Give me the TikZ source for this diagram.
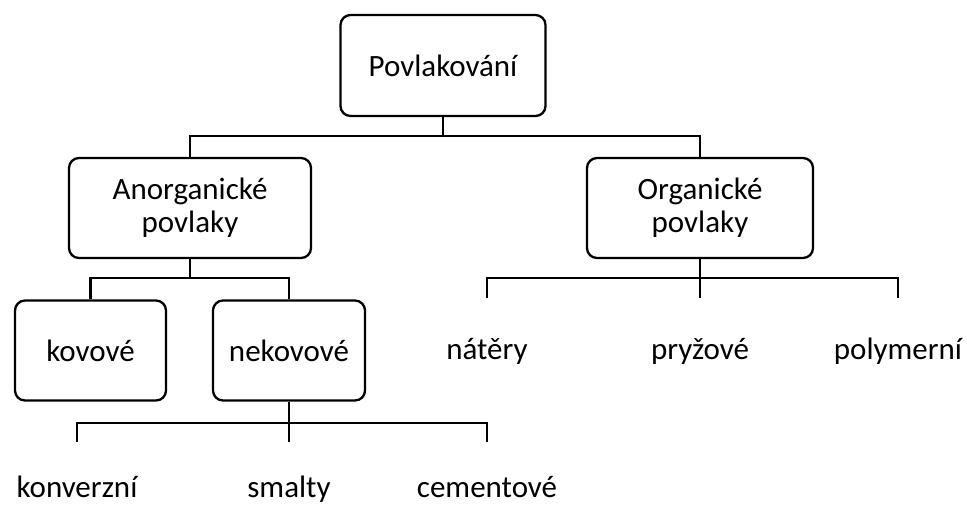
\documentclass[tikz,border=0pt]{standalone}
\usepackage{fontspec}
\setmainfont{Carlito}
\begin{document}
\begin{tikzpicture}[x=1pt, y=-1pt, line width=2.3pt,
  box/.style={draw, rounded corners=10pt, align=center, inner sep=0pt, font=\fontsize{31}{33}\selectfont},
  lbl/.style={anchor=base, inner sep=0pt, font=\fontsize{31}{33}\selectfont}]
\useasboundingbox (0,0) rectangle (967,504);
\node[box, minimum width=205, minimum height=101] (povl) at (443,65.5){Povlakování};
\node[box, minimum width=242, minimum height=100] (anorg) at (190,208){Anorganické\\povlaky};
\node[box, minimum width=226, minimum height=100] (org) at (700,208){Organické\\povlaky};
\draw[](povl.south) -- ++(0,19) -| (anorg.north);
\draw[](povl.south) -- ++(0,19) -| (org.north);
\node[box, minimum width=151, minimum height=100] (kov) at (90.5,350.5){kovové};
\node[box, minimum width=152, minimum height=100] (nekov) at (289,350.5){nekovové};
\draw[](anorg.south) -- ++(0,19) -| (kov.north);
\draw[](anorg.south) -- ++(0,19) -| (nekov.north);
\node[lbl] (nat) at (487,359){nátěry};
\node[lbl] (pryz) at (700,359){pryžové};
\node[lbl] (poly) at (898,359){polymerní};
\coordinate (natEnd) at (487,298);
\coordinate (pryzEnd) at (700,298);
\coordinate (polyEnd) at (898,298);
\draw[](org.south) -- ++(0,19) -| (natEnd);
\draw[](org.south) -- ++(0,19) -| (pryzEnd);
\draw[](org.south) -- ++(0,19) -| (polyEnd);
\node[lbl] (konv) at (77,497){konverzní};
\node[lbl] (smal) at (289,497){smalty};
\node[lbl] (cem) at (487,497){cementové};
\coordinate (konvEnd) at (77,442);
\coordinate (smalEnd) at (289,442);
\coordinate (cemEnd) at (487,442);
\draw[](nekov.south) -- ++(0,21) -| (konvEnd);
\draw[](nekov.south) -- ++(0,21) -| (smalEnd);
\draw[](nekov.south) -- ++(0,21) -| (cemEnd);
\end{tikzpicture}
\end{document}
